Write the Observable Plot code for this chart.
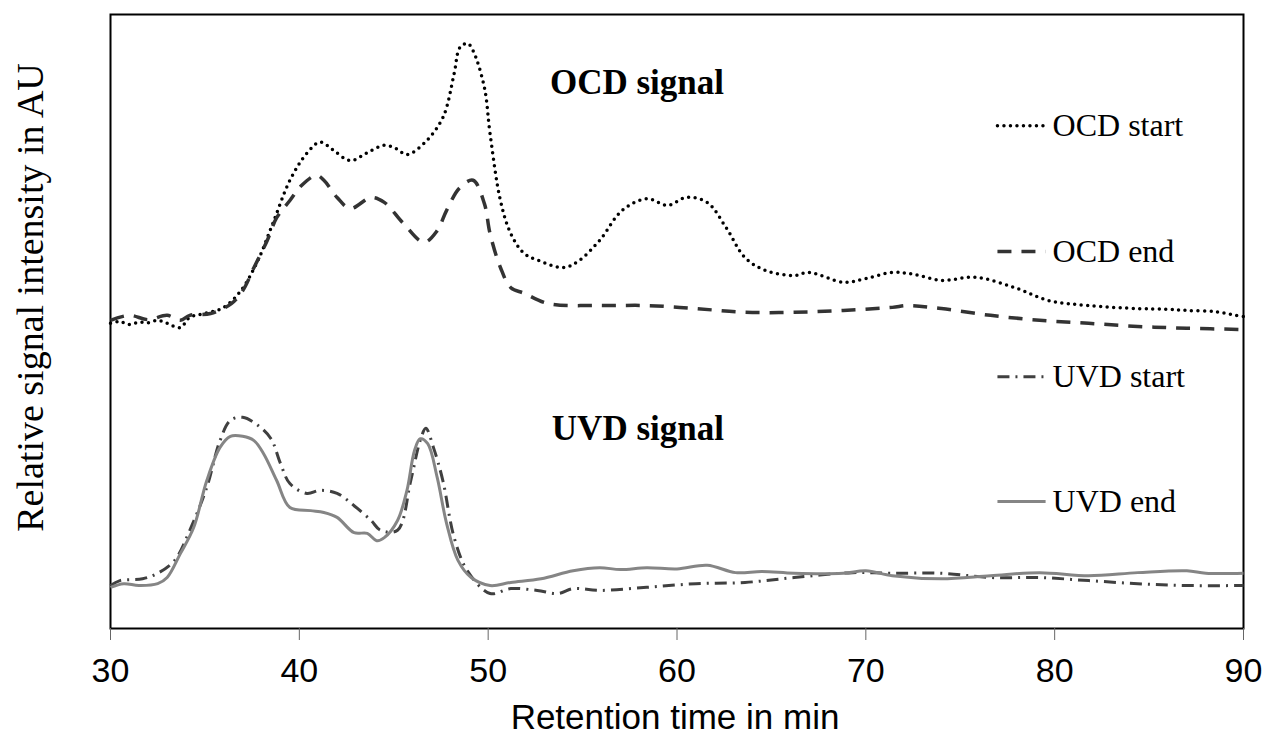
<!DOCTYPE html>
<html>
<head>
<meta charset="utf-8">
<script src="https://cdn.jsdelivr.net/npm/d3@7"></script>
<script src="https://cdn.jsdelivr.net/npm/@observablehq/plot@0.6"></script>
<style>
  html, body { margin: 0; padding: 0; background: #fff; }
</style>
</head>
<body>
<div id="chart"></div>
<script>
// Retention time (min) and relative signal intensity (AU, 0–100 of the plotted range)
const xTicks = [30, 40, 50, 60, 70, 80, 90];
const seriesNames = ["OCD start", "OCD end", "UVD start", "UVD end"];
const panelLabels = ["OCD signal", "UVD signal"];
const yTitle = "Relative signal intensity in AU";
const xTitle = "Retention time in min";

const ocdStart = [
  [30,49.7],[30.5,50.0],[31,49.5],[31.5,49.9],[32,49.8],[32.5,50.2],[33,49.7],[33.7,49.0],
  [34.2,50.7],[35,51.3],[36,52.3],[36.9,55.0],[37.8,59.9],[38.6,66.0],[39.5,73.0],[40.4,77.4],
  [41.1,79.2],[41.8,77.9],[42.7,76.2],[43.6,77.5],[44.5,78.7],[45.1,78.2],[45.7,77.2],[46.6,79.0],
  [47.6,83.2],[48.2,90.4],[48.5,94.6],[48.9,95.3],[49.2,94.1],[49.8,88.1],[50.1,80.6],[50.65,69.7],
  [51.2,64.3],[51.9,61.1],[52.7,59.9],[54.0,58.8],[54.8,59.9],[55.9,63.2],[57.1,68.1],[58.4,70.0],
  [59.5,68.9],[60.5,70.2],[61.6,69.4],[62.6,65.3],[63.6,60.4],[64.7,58.3],[66.2,57.5],[67,58.0],
  [68.8,56.4],[70,57.0],[71.4,58.0],[72.5,57.7],[74,56.7],[75.8,57.2],[77.9,55.5],[79.7,53.4],
  [81.8,52.6],[84.4,52.1],[86,52.0],[87,51.8],[88.5,51.6],[89.6,51.0],[90,50.8]
];

const ocdEnd = [
  [30,50.2],[31,51.0],[32,50.3],[33,51.0],[33.7,50.2],[34.2,51.0],[35.3,51.3],[36.4,52.9],
  [37,55.0],[37.6,58.8],[38.3,63.2],[38.8,66.9],[39.5,69.7],[40.1,72.1],[40.9,73.8],[41.3,73.0],
  [42,70.2],[42.7,68.4],[43.8,70.2],[44.5,69.4],[45.5,66.0],[46.6,62.9],[47.3,64.8],[47.8,68.1],
  [48.5,71.8],[49.2,73.0],[49.8,69.2],[50.1,64.3],[50.65,58.8],[51.2,55.5],[51.9,54.6],[53.2,52.9],
  [55.9,52.6],[58.4,52.6],[61,52.1],[63.6,51.5],[66.2,51.5],[68.8,51.8],[71.4,52.3],[72.2,52.6],
  [74,52.1],[76.6,51.0],[79.2,50.2],[81.8,49.7],[84.4,49.2],[87,48.9],[90,48.7]
];

const uvdStart = [
  [30,7.0],[30.5,7.8],[31.7,8.1],[32.5,9.0],[33.4,11.1],[34.2,16.0],[35.1,23.0],[35.8,30.6],
  [36.35,33.9],[37,34.4],[37.8,33.1],[38.5,30.9],[39,26.9],[39.5,23.6],[40.4,22.0],[41.1,22.5],
  [42,22.0],[42.9,20.0],[43.8,17.6],[44.3,16.0],[45.2,16.0],[45.9,24.1],[46.4,30.6],[46.7,32.6],
  [47.1,29.5],[47.6,24.1],[48.2,14.8],[48.9,9.4],[50.1,5.7],[51.2,6.5],[52.6,6.2],[53.7,5.7],
  [54.5,6.5],[55.9,6.2],[58.4,6.7],[61,7.3],[63.6,7.5],[66.2,8.3],[69.3,9.1],[71.4,9.0],
  [74,9.0],[76.6,8.3],[79.2,8.3],[81.8,7.8],[84.4,7.3],[87,7.0],[90,7.0]
];

const uvdEnd = [
  [30,6.7],[30.7,7.3],[31.5,7.0],[32.5,7.3],[33,8.3],[33.7,12.2],[34.4,16.4],[35.1,24.1],
  [35.8,29.5],[36.35,31.3],[37,31.3],[37.6,30.6],[38.1,28.5],[38.8,24.1],[39.5,19.7],[40.6,19.2],
  [41.3,18.9],[42,18.1],[42.9,15.6],[43.6,15.5],[44.1,14.3],[44.5,14.8],[45.2,17.6],[45.7,22.5],
  [46.1,29.0],[46.4,30.9],[46.8,30.1],[47.3,24.6],[47.8,17.1],[48.4,11.1],[49.1,8.3],[50.1,7.0],
  [51.2,7.5],[52.8,8.1],[54.5,9.4],[55.9,9.9],[57,9.6],[58.4,9.9],[60,9.7],[61.6,10.3],[63.1,9.1],
  [64.5,9.3],[66.2,9.0],[68.8,9.0],[70,9.4],[71.4,8.6],[74,8.1],[76.6,8.6],[79.2,9.1],
  [81.8,8.6],[84.4,9.1],[87,9.4],[88,9.0],[90,9.0]
];

const seriesData = [ocdStart, ocdEnd, uvdStart, uvdEnd];
const styles = [
  {stroke: "#000", strokeWidth: 3.5, strokeDasharray: "0,6.5", strokeLinecap: "round"},
  {stroke: "#333", strokeWidth: 3.5, strokeDasharray: "14,10", strokeLinecap: "butt"},
  {stroke: "#404040", strokeWidth: 3, strokeDasharray: "12,6,2,6", strokeLinecap: "butt"},
  {stroke: "#858585", strokeWidth: 3, strokeDasharray: null, strokeLinecap: "butt"}
];

// legend placement (data units)
const legendX1 = 76.97, legendX2 = 79.52, legendTextX = 79.89;
const legendY = [81.9, 61.4, 41.0, 20.7];
const panelPos = [[57.88, 88.8], [57.93, 32.6]];

const serif = "'Liberation Serif', 'Times New Roman', Times, serif";

const marks = [
  Plot.frame({stroke: "#000", strokeWidth: 2}),
  Plot.axisX({ticks: xTicks, tickSize: 12, tickPadding: 17, stroke: "#666", label: null}),
];

seriesData.forEach((data, i) => {
  const s = styles[i];
  const opts = {x: d => d[0], y: d => d[1], curve: "catmull-rom", stroke: s.stroke,
    strokeWidth: s.strokeWidth, strokeLinecap: s.strokeLinecap, strokeLinejoin: "round"};
  if (s.strokeDasharray) opts.strokeDasharray = s.strokeDasharray;
  marks.push(Plot.line(data, opts));
  const lopts = {x1: () => legendX1, x2: () => legendX2, y1: () => legendY[i], y2: () => legendY[i],
    stroke: s.stroke, strokeWidth: s.strokeWidth, strokeLinecap: s.strokeLinecap};
  if (s.strokeDasharray) lopts.strokeDasharray = s.strokeDasharray;
  marks.push(Plot.link([seriesNames[i]], lopts));
});

marks.push(Plot.text(seriesNames, {
  x: () => legendTextX, y: (d, i) => legendY[i], text: d => d,
  textAnchor: "start", lineAnchor: "middle", fontFamily: serif, fontSize: 32, fill: "#000"
}));

marks.push(Plot.text(panelLabels, {
  x: (d, i) => panelPos[i][0], y: (d, i) => panelPos[i][1], text: d => d,
  textAnchor: "middle", lineAnchor: "middle", fontFamily: serif, fontSize: 35, fontWeight: "bold", fill: "#000"
}));

marks.push(Plot.text([yTitle], {
  frameAnchor: "left", rotate: -90, dx: -80, dy: -24, text: d => d,
  textAnchor: "middle", lineAnchor: "middle", fontFamily: serif, fontSize: 38, fill: "#000"
}));

marks.push(Plot.text([xTitle], {
  frameAnchor: "bottom", dy: 89, dx: -2, text: d => d,
  textAnchor: "middle", lineAnchor: "middle", fontSize: 35, fill: "#000"
}));

const chart = Plot.plot({
  width: 1269,
  height: 742,
  marginLeft: 110,
  marginRight: 26,
  marginTop: 14,
  marginBottom: 114,
  x: {domain: [30, 90]},
  y: {domain: [0, 100], axis: null},
  style: {fontFamily: "'Liberation Sans', Arial, sans-serif", fontSize: "34px", background: "#fff", color: "#000"},
  marks
});
document.getElementById("chart").appendChild(chart);
</script>
</body>
</html>
